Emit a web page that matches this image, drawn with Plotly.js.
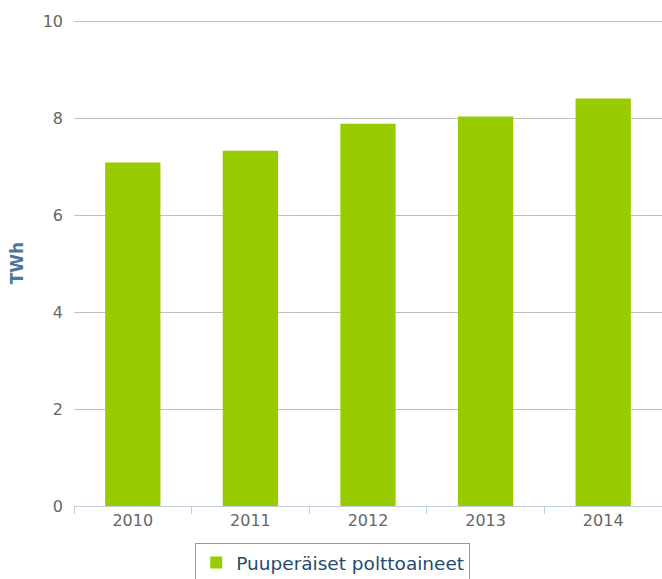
<!DOCTYPE html>
<html>
<head>
<meta charset="utf-8">
<script src="https://cdn.plot.ly/plotly-3.0.1.min.js"></script>
<style>html,body{margin:0;padding:0;background:#fff;}#chart{width:662px;height:579px;}</style>
</head>
<body>
<div id="chart"></div>
<script>
const years = ["2010", "2011", "2012", "2013", "2014"];
const values = [7.09, 7.33, 7.89, 8.04, 8.41];
const seriesName = "Puuperäiset polttoaineet";
const yTickVals = [0, 2, 4, 6, 8, 10];

const data = [{
  type: "bar",
  x: years,
  y: values,
  name: seriesName,
  marker: {color: "#99cc00"},
  showlegend: true,
  hoverinfo: "x+y"
}];

const layout = {
  width: 662,
  height: 579,
  margin: {l: 74, r: 0, t: 20, b: 73, autoexpand: false},
  paper_bgcolor: "#ffffff",
  plot_bgcolor: "#ffffff",
  font: {family: "DejaVu Sans, Verdana, sans-serif", size: 16, color: "#666666"},
  bargap: 0.53,
  xaxis: {
    type: "category",
    showgrid: false,
    showline: true,
    linecolor: "#c0d0e0",
    linewidth: 1,
    ticks: "outside",
    tickson: "boundaries",
    ticklen: 7,
    tickcolor: "#c0d0e0",
    tickfont: {size: 16, color: "#666666"},
    zeroline: false
  },
  yaxis: {
    range: [0, 10.03],
    tickvals: yTickVals,
    showgrid: true,
    gridcolor: "#c0c0c0",
    gridwidth: 1,
    zeroline: false,
    showline: false,
    ticks: "",
    ticklabelstandoff: 10,
    tickfont: {size: 16, color: "#666666"},
    title: {text: "<b>TWh</b>", font: {size: 17, color: "#4d759e"}, standoff: 14}
  },
  showlegend: true,
  legend: {
    orientation: "h",
    x: 0.44,
    xanchor: "center",
    y: -0.076,
    yanchor: "top",
    bordercolor: "#999999",
    borderwidth: 1,
    bgcolor: "#ffffff",
    font: {size: 18.5, color: "#274b6d"}
  }
};

Plotly.newPlot("chart", data, layout, {displayModeBar: false, staticPlot: true});
</script>
</body>
</html>
